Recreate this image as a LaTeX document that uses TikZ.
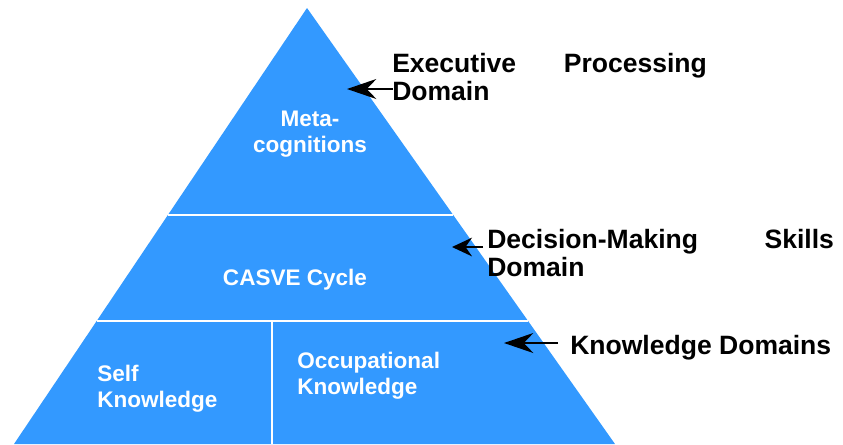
\documentclass[tikz,border=0pt]{standalone}
\usepackage{fontspec}
\setmainfont{Liberation Sans}
\usetikzlibrary{arrows.meta,calc}
\definecolor{pyrblue}{RGB}{51,153,255}
\tikzset{
  inlabel/.style={text=white, inner sep=0pt, font=\bfseries\fontsize{16.9pt}{20pt}\selectfont},
  outlabel/.style={text=black, inner sep=0pt, anchor=base west, align=left, font=\bfseries\fontsize{19.9pt}{21.5pt}\selectfont},
  pointer/.style={draw=black, line width=1.3pt, -{Stealth[length=22pt,width=15pt]}},
  divider/.style={draw=white, line width=1.6pt}
}
\begin{document}
\begin{tikzpicture}[x=0.75pt,y=-0.75pt]
  \useasboundingbox (0,0) rectangle (843,444);

  % pyramid
  \coordinate (apex) at (307,8);
  \coordinate (bl) at (14,444);
  \coordinate (br) at (615,444);
  \fill[pyrblue] (apex) -- (bl) -- (br) -- cycle;

  \coordinate (l1) at ($(apex)!0.4748!(bl)$);
  \coordinate (r1) at ($(apex)!0.4748!(br)$);
  \coordinate (l2) at ($(apex)!0.7179!(bl)$);
  \coordinate (r2) at ($(apex)!0.7179!(br)$);
  \coordinate (m2) at ($(l2)!0.406!(r2)$);
  \coordinate (m3) at (m2 |- bl);
  \path[divider] (l1) -- (r1);
  \path[divider] (l2) -- (r2);
  \path[divider] (m2) -- (m3);

  \begin{scope}[every node/.style={inlabel}]
    \node (meta) [anchor=base, text width=110pt, align=center] at (310,126) {Meta-\\cognitions};
    \node (casve) [anchor=base] at (295,285) {CASVE Cycle};
    \node (self) [anchor=base west, text width=100pt, align=left] at (97,381) {Self\\Knowledge};
    \node (occ) [anchor=base west, text width=120pt, align=left] at (297,368) {Occupational\\Knowledge};
  \end{scope}

  % domains on the right
  \node (exec) [outlabel, text width=236pt] at (392,72) {Executive\hfill Processing\\Domain};
  \node (dm) [outlabel, text width=260pt] at (487,248) {Decision-Making\hfill Skills\\Domain};
  \node (know) [outlabel] at (570,354) {Knowledge Domains};

  \coordinate (tip1) at (347,89);
  \coordinate (tip2) at (452,247);
  \coordinate (tip3) at (504,343);
  \draw[pointer] ($(exec.base west)+(1,17)$) -- (tip1);
  \draw[pointer, -{Stealth[length=15pt,width=14pt]}] ($(dm.base west)+(-4,-1)$) -- (tip2);
  \draw[pointer] ($(know.base west)+(-12,-11)$) -- (tip3);

\end{tikzpicture}
\end{document}
